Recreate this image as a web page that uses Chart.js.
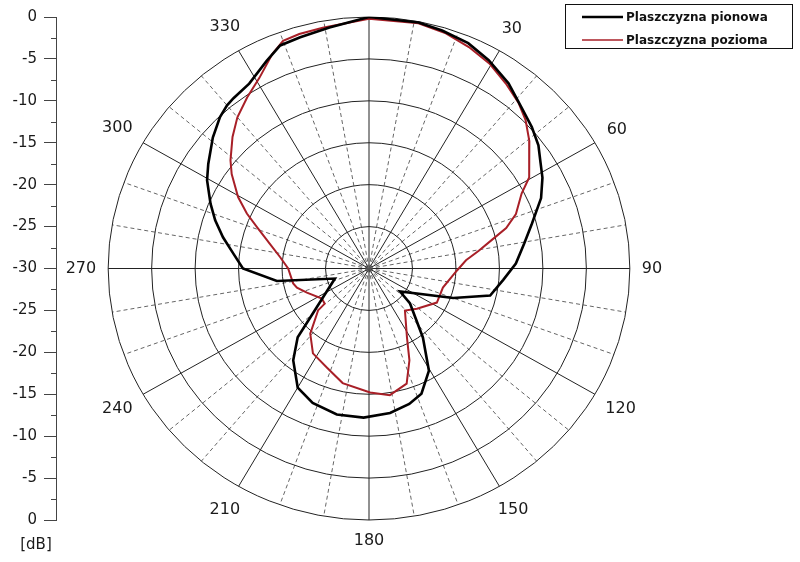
<!DOCTYPE html>
<html>
<head>
<meta charset="utf-8">
<script src="https://cdn.jsdelivr.net/npm/chart.js@4.4.1/dist/chart.umd.min.js"></script>
<style>
    html, body { margin: 0; padding: 0; background: #fff; }
    #wrap { position: relative; width: 800px; height: 562px; }
</style>
</head>
<body>
<div id="wrap"><canvas id="pattern" width="800" height="562"></canvas></div>
<script>
// --- dane: kąt [deg], poziom [dB] ---
const pionowaAngle = [0, 11, 16.5, 23, 29, 36, 42.5, 48, 53, 57.5, 61.5, 67, 74, 80.5, 88, 95, 103, 110, 127.5,
    131.5, 143, 150.5, 158, 164, 172, 182, 192, 202, 210, 218.5, 225, 229, 237, 253, 262, 270,
    276.5, 282.5, 288, 293, 299.5, 304, 311, 316.5, 320, 322.5, 328, 334.5, 339, 344, 351];
const pionowaDb = [0, -0.1, -0.4, -0.8, -1.6, -2.7, -4.0, -4.8, -5.6, -6.6, -7.3, -8.5, -10.5, -11.9, -13.1, -14.5, -15.7, -19.7, -25.5,
    -23.7, -19.7, -16.0, -13.9, -13.2, -12.6, -12.2, -12.2, -12.7, -13.6, -16.0, -18.4, -21.0, -23.7, -25.9, -19.3, -15.5,
    -14.3, -12.8, -11.4, -10.2, -8.6, -7.7, -6.2, -5.1, -4.6, -4.4, -4.0, -2.6, -1.5, -1.3, -0.9];

const poziomaAngle = [0, 11, 17.5, 23.5, 29.5, 35.5, 41, 45.5, 50.5, 52.5, 59.5, 63, 69, 73, 76.5, 80.5, 85, 91.5, 105,
    117.5, 131, 140.5, 152, 157, 162.5, 171, 179.5, 192.5, 202, 212.5, 221, 229.5, 230.5, 236.5, 248, 254.5,
    258.5, 270, 277.5, 284.5, 291, 295, 299.5, 305.5, 309, 315, 320, 325.5, 331, 336.5, 340, 344, 349.5];
const poziomaDb = [-0.2, -0.2, -0.6, -1.2, -1.9, -2.9, -3.8, -4.75, -6.1, -6.8, -8.6, -10.3, -11.9, -13.5, -15.5, -17.2, -18.8, -19.9, -21.2,
    -21.2, -22.7, -23.5, -20.7, -18.1, -15.6, -14.7, -15.2, -16.0, -17.2, -18.0, -19.7, -22.3, -23.4, -23.5, -22.3, -21.4,
    -21.1, -20.7, -19.7, -18.2, -16.2, -14.5, -12.7, -10.6, -9.5, -7.8, -6.45, -5.25, -4.0, -2.1, -1.1, -0.9, -0.8];

const angleLabels = [30, 60, 90, 120, 150, 180, 210, 240, 270, 300, 330];
const ringDb = [-25, -20, -15, -10, -5, 0];
const dbMin = -30;

// kąt mierzony od góry zgodnie z ruchem wskazówek -> x/y wokół środka
const toXY = (angles, dbs) => {
    const pts = angles.map((a, i) => {
        const r = dbs[i] - dbMin;
        const rad = a * Math.PI / 180;
        return { x: r * Math.sin(rad), y: r * Math.cos(rad) };
    });
    pts.push(pts[0]); // zamknięcie krzywej
    return pts;
};

// --- siatka biegunowa (elipsy + promienie + opisy kątów) ---
const polarGrid = {
    id: 'polarGrid',
    beforeDatasetsDraw(chart) {
        const { ctx, scales: { x, y } } = chart;
        const cx = x.getPixelForValue(0);
        const cy = y.getPixelForValue(0);
        const span = -dbMin;
        ctx.save();

        for (let a = 0; a < 360; a += 10) {
            const rad = a * Math.PI / 180;
            const ex = x.getPixelForValue(span * Math.sin(rad));
            const ey = y.getPixelForValue(span * Math.cos(rad));
            if (a % 30 === 0) {
                ctx.setLineDash([]);
                ctx.strokeStyle = '#222';
            } else {
                ctx.setLineDash([4, 3]);
                ctx.strokeStyle = '#666';
            }
            ctx.lineWidth = 1;
            ctx.beginPath();
            ctx.moveTo(cx, cy);
            ctx.lineTo(ex, ey);
            ctx.stroke();
        }

        ctx.setLineDash([]);
        ctx.strokeStyle = '#222';
        ringDb.forEach(db => {
            const r = db - dbMin;
            const rx = x.getPixelForValue(r) - cx;
            const ry = cy - y.getPixelForValue(r);
            ctx.beginPath();
            ctx.ellipse(cx, cy, rx, ry, 0, 0, Math.PI * 2);
            ctx.stroke();
        });

        ctx.font = '16px "DejaVu Sans"';
        ctx.fillStyle = '#1a1a1a';
        ctx.textAlign = 'center';
        ctx.textBaseline = 'middle';
        angleLabels.forEach(a => {
            const rad = a * Math.PI / 180;
            const s = Math.sin(rad), c = Math.cos(rad);
            const ex = x.getPixelForValue(span * s);
            const ey = y.getPixelForValue(span * c);
            const txt = String(a);
            const halfW = ctx.measureText(txt).width / 2;
            const pad = 12 + Math.abs(s) * halfW + Math.abs(c) * 9;
            ctx.fillText(txt, ex + s * pad, ey - c * pad);
        });
        ctx.restore();
    }
};

// --- krótkie podziałki, jednostka, legenda w ramce ---
const extras = {
    id: 'extras',
    afterDraw(chart) {
        const { ctx, scales: { y } } = chart;
        ctx.save();
        ctx.strokeStyle = '#444';
        ctx.lineWidth = 1;
        y.ticks.forEach(t => {
            if (t.value % 5 !== 0) {
                const py = Math.round(y.getPixelForValue(t.value)) + 0.5;
                ctx.beginPath();
                ctx.moveTo(y.right - 5, py);
                ctx.lineTo(y.right, py);
                ctx.stroke();
            }
        });

        ctx.font = '15px "DejaVu Sans"';
        ctx.fillStyle = '#1a1a1a';
        ctx.textAlign = 'center';
        ctx.textBaseline = 'middle';
        ctx.fillText('[dB]', 36, 545);

        // legenda
        ctx.strokeStyle = '#111';
        ctx.strokeRect(565.5, 4.5, 227, 44);
        ctx.font = 'bold 12px "DejaVu Sans"';
        ctx.textAlign = 'left';
        chart.data.datasets.forEach((ds, i) => {
            const ly = 17 + i * 23;
            ctx.strokeStyle = ds.borderColor;
            ctx.lineWidth = i === 0 ? 2.5 : 1.5;
            ctx.beginPath();
            ctx.moveTo(582, ly);
            ctx.lineTo(623, ly);
            ctx.stroke();
            ctx.fillStyle = '#111';
            ctx.fillText(ds.label, 626, ly + 1);
        });
        ctx.restore();
    }
};

const ctx = document.getElementById('pattern');
new Chart(ctx, {
    type: 'scatter',
    data: {
        datasets: [{
            label: 'Plaszczyzna pionowa',
            data: toXY(pionowaAngle, pionowaDb),
            showLine: true,
            borderColor: '#000',
            borderWidth: 2.6,
            pointRadius: 0,
            tension: 0
        }, {
            label: 'Plaszczyzna pozioma',
            data: toXY(poziomaAngle, poziomaDb),
            showLine: true,
            borderColor: '#a81f27',
            borderWidth: 2,
            pointRadius: 0,
            tension: 0
        }]
    },
    options: {
        responsive: false,
        animation: false,
        layout: { padding: { left: 0, top: 17, right: 118, bottom: 42 } },
        plugins: {
            legend: { display: false },
            tooltip: { enabled: false }
        },
        scales: {
            x: { type: 'linear', display: false, min: -36, max: 36 },
            y: {
                type: 'linear',
                min: -30,
                max: 30,
                afterFit: s => { s.width = 56; },
                border: { color: '#444' },
                grid: {
                    drawOnChartArea: false,
                    tickLength: 12,
                    tickColor: c => (c.tick && c.tick.value % 5 === 0 ? '#444' : 'rgba(0,0,0,0)')
                },
                ticks: {
                    stepSize: 2.5,
                    autoSkip: false,
                    padding: 7,
                    color: '#1a1a1a',
                    font: { family: 'DejaVu Sans', size: 15 },
                    callback: v => (v % 5 === 0 ? String(Math.abs(v) - 30) : '')
                }
            }
        }
    },
    plugins: [polarGrid, extras]
});
</script>
</body>
</html>
